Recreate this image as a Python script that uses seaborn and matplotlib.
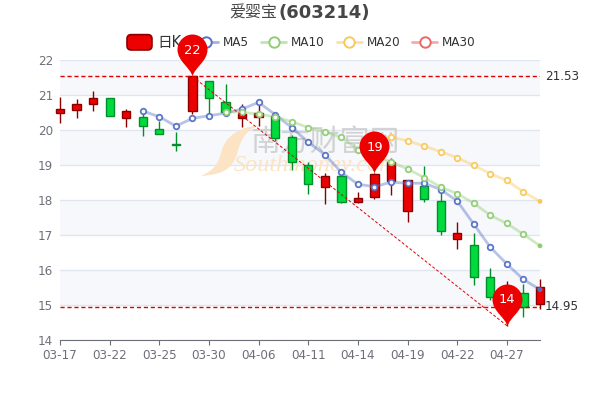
import numpy as np
import pandas as pd
import seaborn as sns
import matplotlib
matplotlib.use("Agg")
import matplotlib.pyplot as plt
from matplotlib.path import Path
from matplotlib.patches import PathPatch, FancyBboxPatch, Patch
from matplotlib.lines import Line2D
from matplotlib.legend_handler import HandlerPatch
from matplotlib.transforms import Affine2D

dates = ["03-17","03-18","03-21","03-22","03-23","03-24","03-25","03-28","03-29","03-30",
         "03-31","04-01","04-06","04-07","04-08","04-11","04-12","04-13","04-14","04-15",
         "04-18","04-19","04-20","04-21","04-22","04-25","04-26","04-27","04-28","04-29"]
opens  = [20.50,20.58,20.74,20.92,20.35,20.36,20.02,19.59,20.54,21.40,20.79,20.33,20.38,20.40,19.79,
          19.00,18.38,18.69,17.94,18.09,18.55,17.70,18.40,17.97,16.89,16.71,15.80,15.00,15.33,15.02]
closes = [20.59,20.74,20.91,20.41,20.53,20.12,19.90,19.56,21.53,20.91,20.52,20.46,20.49,19.78,19.08,
          18.47,18.69,17.95,18.06,18.73,19.08,18.57,18.02,17.12,17.06,15.80,15.24,15.30,14.95,15.52]
highs  = [20.93,20.89,21.12,20.92,20.59,20.48,20.25,19.95,21.53,21.40,21.31,20.74,20.71,20.48,19.85,
          19.08,18.78,18.72,18.22,18.77,19.19,18.57,18.97,18.19,17.36,17.05,16.06,15.69,15.60,15.74]
lows   = [20.21,20.33,20.55,20.40,20.09,19.84,19.90,19.40,20.46,20.46,20.50,20.08,20.12,19.69,18.86,
          18.16,17.89,17.91,17.91,18.02,18.14,17.38,17.95,17.00,16.60,15.58,15.14,14.41,14.66,14.89]
ma5 = [None]*5 + [20.54,20.38,20.11,20.33,20.41,20.48,20.60,20.79,20.44,20.07,19.65,19.30,18.79,18.45,
                  18.38,18.51,18.48,18.48,18.30,17.97,17.31,16.65,16.17,15.73,15.44]
ma10 = [None]*10 + [20.52,20.51,20.45,20.38,20.24,20.07,19.95,19.79,19.44,19.28,19.08,18.89,18.64,18.37,
                    18.18,17.91,17.56,17.33,17.02,16.69]
ma20 = [None]*20 + [19.80,19.69,19.54,19.38,19.21,18.99,18.75,18.56,18.23,17.96]
ma30 = [None]*30
tick_every = 3
y_ticks = [14,15,16,17,18,19,20,21,22]
high_line = 21.53
low_line = 14.95
pins = [(8, 21.53, "22"), (19, 18.77, "19"), (27, 14.41, "14")]

UP, UP_E, DOWN, DOWN_E = "#ec0000", "#8A0000", "#00da3c", "#008F28"
MA_COL = {"MA5":"#5470c6", "MA10":"#91cc75", "MA20":"#fac858", "MA30":"#ee6666"}
GREY = "#6E7079"

sns.set_theme(style="white")
plt.rcParams["font.family"] = ["DejaVu Sans", "Noto Sans CJK SC"]

fig = plt.figure(figsize=(6, 4), dpi=100)
ax = fig.add_axes([60/600, 1-340/400, 480/600, 280/400])
px = Affine2D().scale(1/600, -1/400).translate(0, 1) + fig.transFigure

n = len(dates)
x = np.arange(n)
df = pd.DataFrame({"i": x, "MA5": ma5, "MA10": ma10, "MA20": ma20, "MA30": ma30}).astype(float)

# Bands and grid
for lo in y_ticks[:-1]:
    if lo % 2 == 1:
        ax.axhspan(lo, lo + 1, color="#f6f8fc", lw=0, zorder=0)
ax.set_axisbelow(True)
ax.grid(axis="y", color="#e0e6f1", lw=1)

# Watermark
swoosh = Path([(201,176),(214,170),(218,165),(222,150),(226,136),(240,126),(263,125),
               (250,127),(243,134),(238,150),(234,166),(228,174),(201,176)],
              [Path.MOVETO]+[Path.CURVE4]*12)
ax.add_patch(PathPatch(swoosh, transform=px, fc="#fbe3c4", ec="none", zorder=1, clip_on=False))
ax.text(325, 142, "南方财富网", transform=px, fontsize=21.5, color="#cccccc", alpha=.85,
        ha="center", va="center", family=["Noto Sans CJK SC"], zorder=1)
ax.text(316, 165, "Southmoney.com", transform=px, fontsize=17.5, color="#fbe3c4", style="italic",
        ha="center", va="center", family=["Liberation Serif"], zorder=1)

# Candles
for i in range(n):
    up = closes[i] >= opens[i]
    ax.vlines(i, lows[i], highs[i], color=UP_E if up else DOWN_E, lw=1, zorder=3, clip_on=False)
    ax.bar(i, abs(closes[i]-opens[i]), bottom=min(opens[i], closes[i]), width=0.5,
           color=UP if up else DOWN, edgecolor=UP_E if up else DOWN_E, lw=1, zorder=3, clip_on=False)

# Moving averages
for name, col in MA_COL.items():
    sub = df[["i", name]].dropna()
    if sub.empty:
        continue
    sns.lineplot(data=sub, x="i", y=name, color=col, alpha=.42, lw=2, ax=ax, zorder=4, clip_on=False)
    sns.scatterplot(data=sub.iloc[:-1], x="i", y=name, s=16, facecolor="white", edgecolor=col,
                    linewidth=1.3, alpha=.95, ax=ax, zorder=5, clip_on=False)
    sns.scatterplot(data=sub.iloc[-1:], x="i", y=name, s=12, color=col, edgecolor="none",
                    ax=ax, zorder=5, clip_on=False)

# Mark lines
ax.plot([0, n-1], [high_line]*2, color="#e00000", lw=1, ls=(0, (3, 2)), zorder=6)
ax.plot([0, n-1], [low_line]*2, color="#e00000", lw=1, ls=(0, (3, 2)), zorder=6)
ax.plot([pins[0][0], pins[2][0]], [pins[0][1], pins[2][1]], color="#e00000", lw=.7,
        ls=(0, (3, 2)), zorder=6)
ax.annotate(f"{high_line:.2f}", (n-1, high_line), xytext=(3.6, 0), textcoords="offset points",
            color="#333333", fontsize=8.64, va="center", annotation_clip=False)
ax.annotate(f"{low_line:.2f}", (n-1, low_line), xytext=(3.6, 0), textcoords="offset points",
            color="#333333", fontsize=8.64, va="center", annotation_clip=False)

# Pins
pin_path = Path([(0,0),(-2,9),(-15,15),(-15,27),(-15,35),(-8,42),(0,42),(8,42),(15,35),(15,27),
                 (15,15),(2,9),(0,0),(0,0)],
                [Path.MOVETO]+[Path.CURVE4]*12+[Path.CLOSEPOLY])
for i, v, lab in pins:
    ax.plot([i], [v], marker=pin_path, ms=60.5, mfc="#ec0000", mec="none", ls="none",
            zorder=20, clip_on=False)
    ax.annotate(lab, (i, v), xytext=(0, 18.5), textcoords="offset points", ha="center", va="center",
                color="white", fontsize=9.4, zorder=21, annotation_clip=False)

# Axes
ax.set_xlim(0, n-1)
ax.set_ylim(14, 22)
ax.set_xticks(x[::tick_every], [dates[k] for k in x[::tick_every]])
ax.set_yticks(y_ticks)
ax.set_xlabel("")
ax.set_ylabel("")
ax.tick_params(axis="x", length=3.6, width=.8, color=GREY, labelcolor=GREY, labelsize=8.64, pad=3.2, bottom=True)
ax.tick_params(axis="y", length=0, labelcolor=GREY, labelsize=8.64, pad=5)
for s in ["top", "left", "right"]:
    ax.spines[s].set_visible(False)
ax.spines["bottom"].set_color(GREY)
ax.spines["bottom"].set_linewidth(.8)

# Title
fig.text(277/600, 1-13/400, "爱婴宝", fontsize=11.5, color="#464646", ha="right", va="center",
         family=["Noto Sans CJK SC"], fontweight="light")
fig.text(278/600, 1-13/400, "(603214)", fontsize=13, color="#464646", ha="left", va="center",
         fontweight="bold")

# Legend
class RoundHandler(HandlerPatch):
    def create_artists(self, legend, orig, xd, yd, w, h, fs, trans):
        p = FancyBboxPatch((-xd, -yd - 2.5), w, h + 5, boxstyle="round,pad=0,rounding_size=3",
                           fc=UP, ec=UP_E, lw=1.2, transform=trans)
        return [p]

handles = [Patch(fc=UP, ec=UP_E)]
labels = ["日K"]
for name, col in MA_COL.items():
    h = Line2D([], [], color=matplotlib.colors.to_rgba(col, .55), lw=2, marker="o", ms=7.5,
               mfc="white", mec=col, mew=1.4)
    handles.append(h)
    labels.append(name)
leg = fig.legend(handles, labels, handler_map={Patch: RoundHandler()}, loc="center",
                 bbox_to_anchor=(301.5/600, 1-42/400), ncol=5, frameon=False, fontsize=8.64,
                 handlelength=2.08, handletextpad=.42, columnspacing=1.0, labelcolor="#333333",
                 borderaxespad=0, borderpad=0)
leg.get_texts()[0].set_fontsize(10.5)
leg.set_zorder(2)
ax.set_zorder(5)
ax.patch.set_alpha(0)

fig.savefig("out.png", dpi=100)
